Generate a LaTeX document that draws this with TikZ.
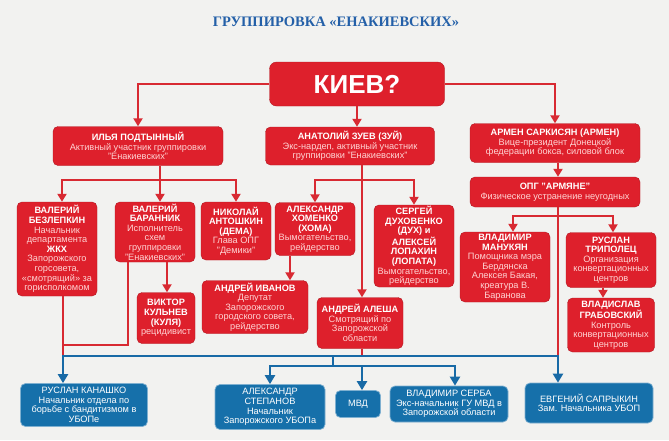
\documentclass[tikz,border=0pt]{standalone}
\usepackage{fontspec}
\setsansfont{Liberation Sans}
\newfontfamily\titlefont{Liberation Serif}
\usetikzlibrary{arrows.meta, positioning, calc}

\definecolor{bgpaper}{RGB}{242,242,240}
\definecolor{boxred}{RGB}{222,32,44}
\definecolor{linered}{RGB}{216,42,50}
\definecolor{descpink}{RGB}{255,212,212}
\definecolor{boxblue}{RGB}{22,112,170}
\definecolor{lineblue}{RGB}{24,106,166}
\definecolor{titleblue}{RGB}{36,96,168}

\newcommand{\ds}[1]{{\mdseries\color{descpink}#1}}

\begin{document}
\begin{tikzpicture}[x=1pt, y=-1pt,
    redbox/.style={rounded corners=5pt, fill=boxred, draw=boxred!80!black, line width=.4pt,
        text=white, align=center, inner sep=1pt,
        font=\sffamily\bfseries\fontsize{9.2}{9.6}\selectfont},
    bluebox/.style={rounded corners=5pt, fill=boxblue, draw=boxblue!55!white, line width=.7pt,
        text=white, align=center, inner sep=1pt,
        font=\sffamily\fontsize{9.2}{9.6}\selectfont},
    rline/.style={draw=linered, line width=2pt},
    rarrow/.style={rline, -{Triangle[width=9pt, length=8pt]}},
    bline/.style={draw=lineblue, line width=2.4pt},
    barrow/.style={bline, -{Triangle[width=10pt, length=9pt]}},
]

    \path[use as bounding box, fill=bgpaper] (0,0) rectangle (669,440);

    \node[font=\titlefont\bfseries\fontsize{14.5}{16}\selectfont, text=titleblue] (title) at (336,22)
        {ГРУППИРОВКА «ЕНАКИЕВСКИХ»};

    % top level
    \node[redbox, rounded corners=7pt, minimum width=175pt, minimum height=44pt,
        font=\sffamily\bfseries\fontsize{26}{28}\selectfont] (kiev) at (357,84) {КИЕВ?};

    \node[redbox, minimum width=170pt, minimum height=39pt] (podt) at (138,146)
        {ИЛЬЯ ПОДТЫННЫЙ\\\ds{Активный участник группировки}\\\ds{"Енакиевских"}};
    \node[redbox, minimum width=169pt, minimum height=38pt] (zuev) at (350,146)
        {АНАТОЛИЙ ЗУЕВ (ЗУЙ)\\\ds{Экс-нардеп, активный участник}\\\ds{группировки "Енакиевских"}};
    \node[redbox, minimum width=170pt, minimum height=39pt] (sark) at (555,143)
        {АРМЕН САРКИСЯН (АРМЕН)\\\ds{Вице-президент Донецкой}\\\ds{федерации бокса, силовой блок}};
    \node[redbox, minimum width=170pt, minimum height=30pt] (armyane) at (555,192)
        {ОПГ "АРМЯНЕ"\\\ds{Физическое устранение неугодных}};

    % second level
    \node[redbox, minimum width=80pt, minimum height=94pt] (bezl) at (57,249)
        {ВАЛЕРИЙ\\БЕЗЛЕПКИН\\\ds{Начальник}\\\ds{департамента}\\ЖКХ\\\ds{Запорожского}\\\ds{горсовета,}\\\ds{«смотрящий» за}\\\ds{горисполкомом}};
    \node[redbox, minimum width=80pt, minimum height=60pt] (baran) at (155,232)
        {ВАЛЕРИЙ\\БАРАННИК\\\ds{Исполнитель}\\\ds{схем}\\\ds{группировки}\\\ds{"Енакиевских"}};
    \node[redbox, minimum width=70pt, minimum height=58pt] (antosh) at (236,231)
        {НИКОЛАЙ\\АНТОШКИН\\(ДЕМА)\\\ds{Глава ОПГ}\\\ds{"Демики"}};
    \node[redbox, minimum width=80pt, minimum height=53pt] (homa) at (315,229)
        {АЛЕКСАНДР\\ХОМЕНКО\\(ХОМА)\\\ds{Вымогательство,}\\\ds{рейдерство}};
    \node[redbox, minimum width=80pt, minimum height=82pt] (duh) at (414,246)
        {СЕРГЕЙ\\ДУХОВЕНКО\\(ДУХ) и\\АЛЕКСЕЙ\\ЛОПАХИН\\(ЛОПАТА)\\\ds{Вымогательство,}\\\ds{рейдерство}};
    \node[redbox, minimum width=90pt, minimum height=70pt] (manuk) at (505,267)
        {ВЛАДИМИР\\МАНУКЯН\\\ds{Помощника мэра}\\\ds{Бердянска}\\\ds{Алексея Бакая,}\\\ds{креатура В.}\\\ds{Баранова}};
    \node[redbox, minimum width=90pt, minimum height=55pt] (tripol) at (611,260)
        {РУСЛАН\\ТРИПОЛЕЦ\\\ds{Организация}\\\ds{конвертационных}\\\ds{центров}};

    % third level
    \node[redbox, minimum width=58pt, minimum height=51pt] (kuln) at (166,318)
        {ВИКТОР\\КУЛЬНЕВ\\(КУЛЯ)\\\ds{рецидивист}};
    \node[redbox, minimum width=106pt, minimum height=53pt] (ivan) at (255,307)
        {АНДРЕЙ ИВАНОВ\\\ds{Депутат}\\\ds{Запорожского}\\\ds{городского совета,}\\\ds{рейдерство}};
    \node[redbox, minimum width=86pt, minimum height=51pt] (alesha) at (360,323)
        {АНДРЕЙ АЛЕША\\\ds{Смотрящий по}\\\ds{Запорожской}\\\ds{области}};
    \node[redbox, minimum width=87pt, minimum height=54pt] (grab) at (611,325)
        {ВЛАДИСЛАВ\\ГРАБОВСКИЙ\\\ds{Контроль}\\\ds{конвертационных}\\\ds{центров}};

    % police
    \node[bluebox, minimum width=127pt, minimum height=43pt] (kanash) at (84,405)
        {РУСЛАН КАНАШКО\\Начальник отдела по\\борьбе с бандитизмом в\\УБОПе};
    \node[bluebox, minimum width=110pt, minimum height=45pt] (stepan) at (270,407)
        {АЛЕКСАНДР\\СТЕПАНОВ\\Начальник\\Запорожского УБОПа};
    \node[bluebox, minimum width=45pt, minimum height=27pt] (mvd) at (358,404) {МВД};
    \node[bluebox, minimum width=118pt, minimum height=36pt] (serba) at (449,404)
        {ВЛАДИМИР СЕРБА\\Экс-начальник ГУ МВД в\\Запорожской области};
    \node[bluebox, minimum width=128pt, minimum height=40pt] (sapr) at (589,403)
        {ЕВГЕНИЙ САПРЫКИН\\Зам. Начальника УБОП};

    % red links
    \draw[rarrow] (kiev.west) -| (podt.north);
    \draw[rarrow] (kiev.east) -| (sark.north);
    \draw[rarrow] (kiev.south) -- (kiev.south |- zuev.north);

    \coordinate (podtbus) at (160,180);
    \draw[rline] (podt.south -| podtbus) -- (podtbus);
    \draw[rarrow] (podtbus) -| ([xshift=5pt]bezl.north);
    \draw[rarrow] (podtbus) -- (podtbus |- baran.north);
    \draw[rarrow] (podtbus) -| (antosh.north);

    \coordinate (zuevbus) at (362,180);
    \draw[rline] (zuev.south -| zuevbus) -- (zuevbus);
    \draw[rarrow] (zuevbus) -| (homa.north);
    \draw[rarrow] (zuevbus) -| (duh.north);
    \draw[rarrow] (zuevbus) -- (zuevbus |- alesha.north);

    \draw[rarrow] ([xshift=3pt]sark.south) -- ([xshift=3pt]armyane.north);
    \coordinate (armbus) at (558,216);
    \draw[rline] (armyane.south -| armbus) -- (armbus);
    \draw[rarrow] (armbus) -| ([xshift=8pt]manuk.north);
    \draw[rarrow] (armbus) -| ([xshift=2pt]tripol.north);
    \draw[rarrow] ([xshift=-8pt]tripol.south) -- ([xshift=-8pt]tripol.south |- grab.north);

    \draw[rarrow] ([xshift=-25pt]homa.south) -- ([xshift=-25pt]homa.south |- ivan.north);
    \draw[rarrow] ([xshift=12pt]baran.south) -- ([xshift=12pt]baran.south |- kuln.north);

    % down to the police
    \coordinate (busw) at (63,356);
    \coordinate (buse) at (558,356);
    \coordinate (lowbus) at (333,366);
    \draw[rline] ([xshift=6pt]bezl.south) -- (busw);
    \draw[rline] ([xshift=-27pt]baran.south) |- ($(busw)+(0,-11)$);
    \draw[rline] (alesha.south -| 362,0) -- (362,356);
    \draw[rline] (armbus) -- (buse);

    % blue links
    \draw[barrow] (lowbus |- busw) -- (busw) -- (kanash.north -| busw);
    \draw[barrow] (lowbus |- busw) -- (buse) -- (sapr.north -| buse);
    \draw[bline] (lowbus |- busw) -- (lowbus);
    \draw[barrow] (lowbus) -| (stepan.north);
    \draw[barrow] (lowbus) -| ([xshift=4pt]mvd.north);
    \draw[barrow] (lowbus) -| ([xshift=6pt]serba.north);

\end{tikzpicture}
\end{document}
